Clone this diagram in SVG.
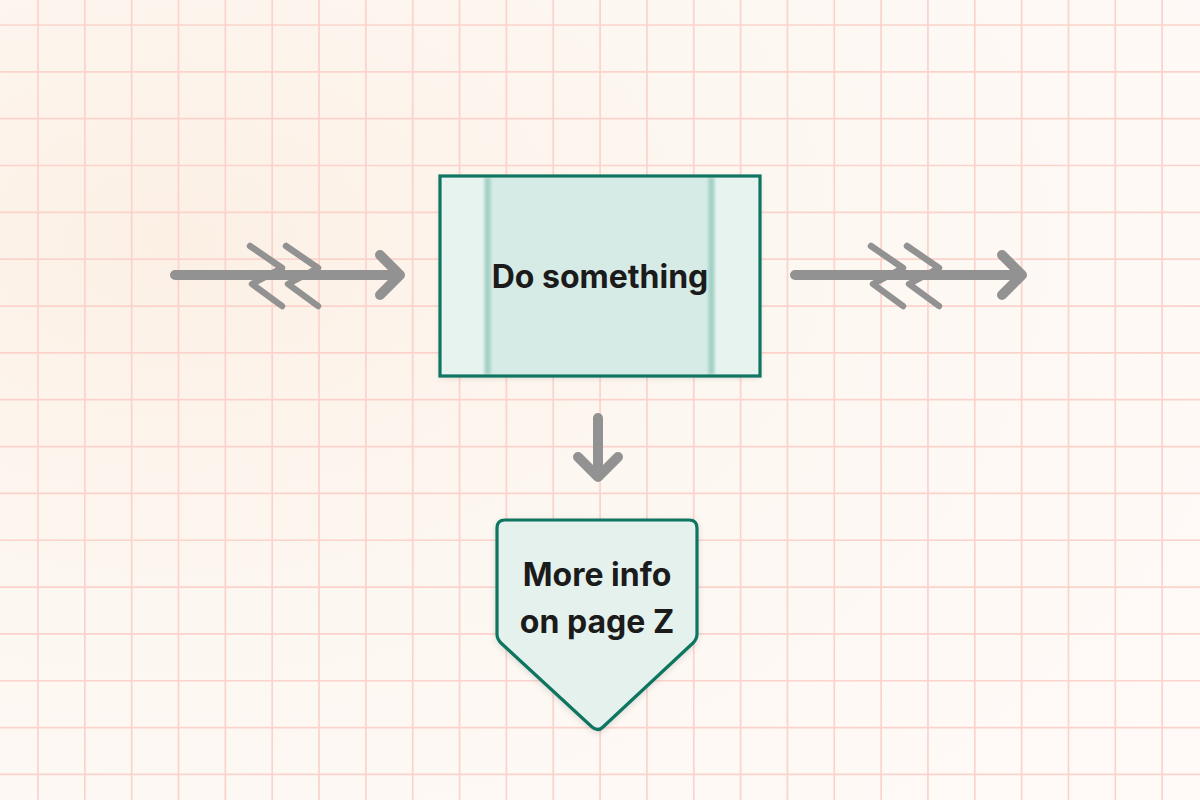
<svg xmlns="http://www.w3.org/2000/svg" width="1200" height="800" viewBox="0 0 1200 800">
  <defs>
    <radialGradient id="paper" cx="0.15" cy="0.3" r="1.0">
      <stop offset="0" stop-color="#fcf0e5"/>
      <stop offset="0.45" stop-color="#fdf7f1"/>
      <stop offset="1" stop-color="#fffaf7"/>
    </radialGradient>
    <filter id="shadow" x="-10%" y="-10%" width="120%" height="130%">
      <feDropShadow dx="0" dy="2" stdDeviation="3" flood-color="#000" flood-opacity="0.12"/>
    </filter>
    <filter id="blur" x="-50%" y="-5%" width="200%" height="110%">
      <feGaussianBlur stdDeviation="1.8"/>
    </filter>
    <style>
      .grid { stroke: #fbd3cc; stroke-width: 1.7; fill: none; }
      .conn { stroke: #929292; fill: none; stroke-linecap: round; stroke-linejoin: round; }
      .shaft { stroke-width: 10; }
      .zig { stroke-width: 6.5; }
      .node { fill: #e5f1ec; stroke: #0e7561; stroke-width: 3.2; }
      .label { font-family: Inter, "Liberation Sans", sans-serif; font-weight: 700; font-size: 32px; fill: #1b1b1b; text-anchor: middle; }
    </style>
  </defs>

  <rect width="1200" height="800" fill="url(#paper)"/>
  <path class="grid" d="M38 0V800M84.84 0V800M131.68 0V800M178.52 0V800M225.36 0V800M272.2 0V800M319.04 0V800M365.88 0V800M412.72 0V800M459.56 0V800M506.4 0V800M553.24 0V800M600.08 0V800M646.92 0V800M693.76 0V800M740.6 0V800M787.44 0V800M834.28 0V800M881.12 0V800M927.96 0V800M974.8 0V800M1021.64 0V800M1068.48 0V800M1115.32 0V800M1162.16 0V800
  M0 25H1200M0 71.84H1200M0 118.68H1200M0 165.52H1200M0 212.36H1200M0 259.2H1200M0 306.04H1200M0 352.88H1200M0 399.72H1200M0 446.56H1200M0 493.4H1200M0 540.24H1200M0 587.08H1200M0 633.92H1200M0 680.76H1200M0 727.6H1200M0 774.44H1200"/>

  <g id="connectors">
    <g id="arrow-in">
      <path class="conn shaft" d="M175 275H400M380 255L400 275L380 295"/>
      <path class="conn zig" d="M250 246L282 268L252 284L282 306M286 246L318 268L288 284L318 306"/>
    </g>
    <g id="arrow-out">
      <path class="conn shaft" d="M795 275H1022M1002 255L1022 275L1002 295"/>
      <path class="conn zig" d="M871 246L903 268L873 284L903 306M907 246L939 268L909 284L939 306"/>
    </g>
    <g id="arrow-down">
      <path class="conn shaft" d="M598 418V477M578 457L598 477L618 457"/>
    </g>
  </g>

  <g id="node-do-something">
    <rect x="440" y="176" width="320" height="200" fill="#e7f3ef" filter="url(#shadow)"/>
    <rect x="486" y="177.5" width="227" height="197" fill="#d6ebe5"/>
    <g filter="url(#blur)">
      <rect x="484.5" y="177.5" width="6" height="197" fill="#a2d0c5"/>
      <rect x="708.5" y="177.5" width="6" height="197" fill="#a2d0c5"/>
    </g>
    <rect x="440" y="176" width="320" height="200" fill="none" stroke="#0e7561" stroke-width="3.2"/>
    <text class="label" x="600" y="288">Do something</text>
  </g>

  <g id="node-more-info">
    <path class="node" filter="url(#shadow)" d="M505 520H689Q697 520 697 528V634Q697 639 693 643L603 727Q598 732 592 727L501 643Q497 639 497 634V528Q497 520 505 520Z"/>
    <text class="label" x="597" y="586">More info</text>
    <text class="label" x="597" y="633">on page Z</text>
  </g>
</svg>
